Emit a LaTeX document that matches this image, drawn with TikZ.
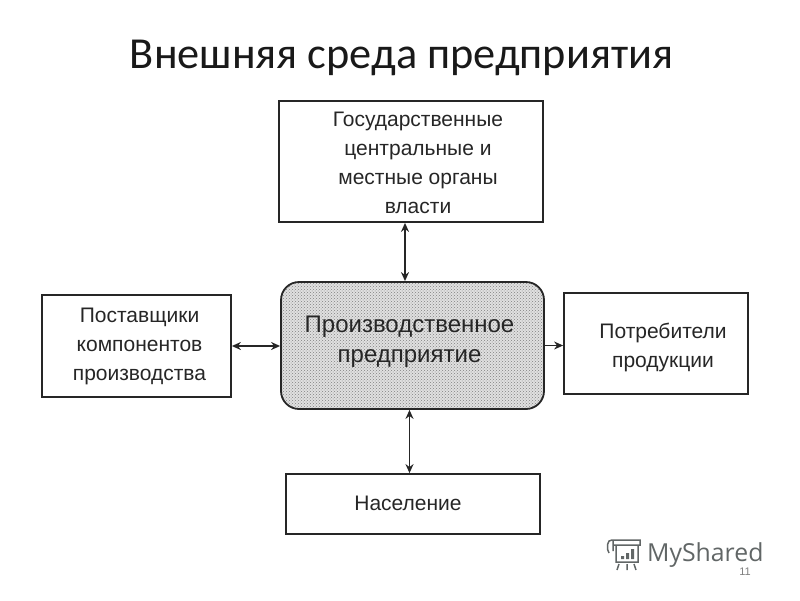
\documentclass[tikz,border=0pt]{standalone}
\usepackage{fontspec}
\setmainfont{Liberation Sans}
\newfontfamily\titlefont{Carlito}
\newfontfamily\logofont{Open Sans}
\usetikzlibrary{arrows.meta,patterns}
\definecolor{logogray}{rgb}{0.38,0.40,0.40}
\newcommand{\boxlines}[3]{\hspace*{#1}\raisebox{\dimexpr #2-5pt}[0pt][0pt]{\begin{tabular}{@{}c@{}}#3\end{tabular}}}
\tikzset{
  orgbox/.style={draw=black!85,line width=1.8pt,inner sep=0pt,font=\fontsize{21}{29}\selectfont,text=black!85},
  linkarrow/.style={line width=1.6pt,>={Stealth[length=9pt,width=8pt]},black!85},
  logoline/.style={draw=logogray,line width=1.5pt},
}
\begin{document}
\begin{tikzpicture}[x=1pt,y=-1pt]
\useasboundingbox (0,0) rectangle (800,600);
%title
\node (title) at (401.5,58) {\titlefont\fontsize{44.3}{48}\selectfont\textcolor{black!90}{Внешняя среда предприятия}};
%boxes
\node[orgbox,minimum width=264pt,minimum height=121pt] (power) at (411,161.5)
  {\boxlines{14pt}{-2.5pt}{Государственные\\центральные и\\местные органы\\власти}};
\node[orgbox,minimum width=263pt,minimum height=127pt,rounded corners=18pt,
  preaction={fill=black!12},pattern=crosshatch dots,pattern color=black!50,
  font=\fontsize{24}{30}\selectfont] (plant) at (412.5,345.5)
  {\boxlines{-6pt}{3pt}{Производственное\\предприятие}};
\node[orgbox,minimum width=189pt,minimum height=102pt] (suppliers) at (136.5,346)
  {\boxlines{6pt}{0pt}{Поставщики\\компонентов\\производства}};
\node[orgbox,minimum width=184pt,minimum height=101pt] (customers) at (656,343.5)
  {\boxlines{14pt}{-3.5pt}{Потребители\\продукции}};
\node[orgbox,minimum width=254pt,minimum height=60pt] (people) at (413,504)
  {\boxlines{-10pt}{-1pt}{Население}};
%links
\draw[linkarrow,<->] ([xshift=-6pt]power.south) -- ([xshift=-6pt]power.south |- plant.north);
\draw[linkarrow,<->] (suppliers.east) -- (suppliers.east -| plant.west);
\draw[linkarrow,line width=1.2pt,->] (plant.east) -- (plant.east -| customers.west);
\draw[linkarrow,<->] ([xshift=-3pt]plant.south) -- ([xshift=-3pt]plant.south |- people.north);
%logo
\draw[logoline] (612,540) -- (640,540) -- (640,545) -- (614,545) (612,540) .. controls (607,539) and (606,549) .. (609,553) (613,541) -- (613,551) (616,546) -- (616,562) -- (638,562) -- (638,545);
\fill[logogray] (621,556) rectangle (624,559) (626,553) rectangle (629,559) (631,549) rectangle (634,559);
\draw[logoline] (619,564) -- (617,570) (627,564) -- (627,570) (634,564) -- (636,570);
\node[inner sep=0pt,anchor=west] (brand) at (647,555) {\logofont\fontsize{24.8}{30}\selectfont\textcolor{logogray}{MyShared}};
\node[inner sep=0pt] (pagenum) at (745,572) {\fontsize{11}{12}\selectfont\textcolor{black!50}{11}};
\end{tikzpicture}
\end{document}
